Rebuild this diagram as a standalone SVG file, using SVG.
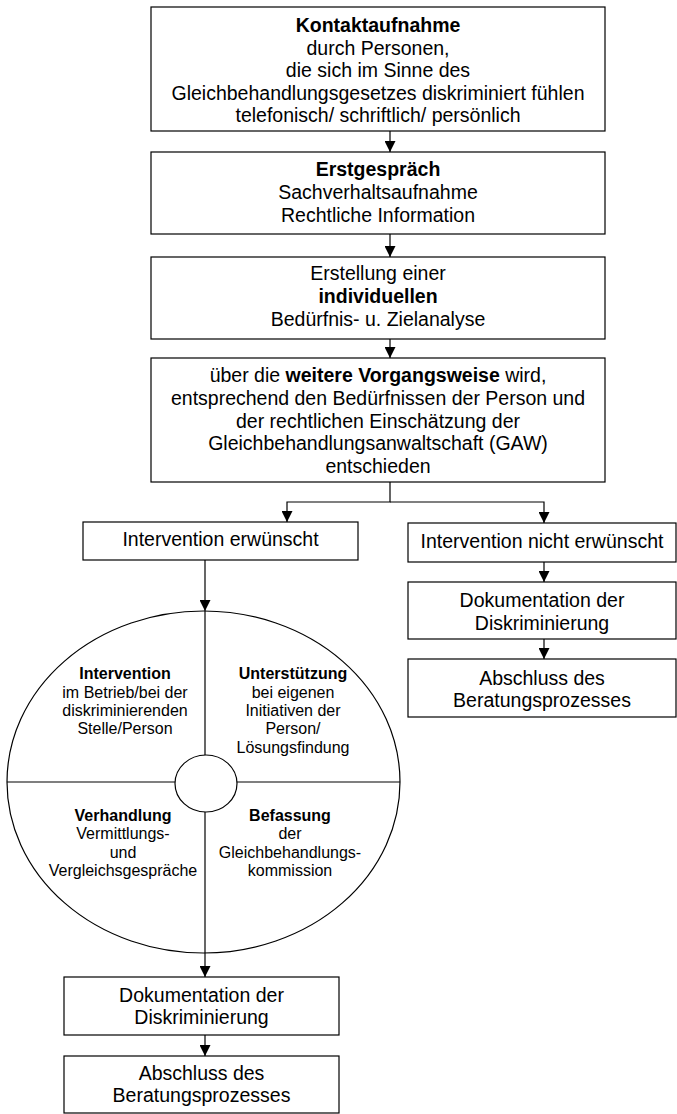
<svg xmlns="http://www.w3.org/2000/svg" width="677" height="1114" viewBox="0 0 677 1114">
<defs>
<marker id="arr" markerUnits="userSpaceOnUse" markerWidth="11" markerHeight="11" refX="11" refY="5.5" orient="auto">
<path d="M0,0 L11,5.5 L0,11 z" fill="#000"/>
</marker>
<style>
.box{fill:#fff;stroke:#000;stroke-width:1.2}
.ln{fill:none;stroke:#000;stroke-width:1.2}
text{font-family:"Liberation Sans",Arial,sans-serif;fill:#000}
.t{font-size:19.5px;text-anchor:middle}
.s{font-size:16px;text-anchor:middle}
.b{font-weight:bold}
</style>
</defs>
<rect width="677" height="1114" fill="#fff"/>
<g id="connectors">
<line class="ln" x1="390" y1="131" x2="390" y2="152" marker-end="url(#arr)"/>
<line class="ln" x1="390" y1="234" x2="390" y2="257" marker-end="url(#arr)"/>
<line class="ln" x1="390" y1="339" x2="390" y2="358" marker-end="url(#arr)"/>
<polyline class="ln" points="390,482 390,502 287,502 287,522" marker-end="url(#arr)"/>
<polyline class="ln" points="390,502 544,502 544,523" marker-end="url(#arr)"/>
<line class="ln" x1="205" y1="560" x2="205" y2="611" marker-end="url(#arr)"/>
<line class="ln" x1="544" y1="562" x2="544" y2="582" marker-end="url(#arr)"/>
<line class="ln" x1="544" y1="639" x2="544" y2="659" marker-end="url(#arr)"/>
<line class="ln" x1="205" y1="812" x2="205" y2="977" marker-end="url(#arr)"/>
<line class="ln" x1="205" y1="1035" x2="205" y2="1056" marker-end="url(#arr)"/>
</g>
<g id="n1">
<rect class="box" x="151" y="7" width="454" height="124"/>
<text class="t" x="378" y="32"><tspan class="b">Kontaktaufnahme</tspan><tspan x="378" y="54.5">durch Personen,</tspan><tspan x="378" y="77">die sich im Sinne des</tspan><tspan x="378" y="99.5">Gleichbehandlungsgesetzes diskriminiert fühlen</tspan><tspan x="378" y="122">telefonisch/ schriftlich/ persönlich</tspan></text>
</g>
<g id="n2">
<rect class="box" x="151" y="152" width="454" height="82"/>
<text class="t" x="378" y="176"><tspan class="b">Erstgespräch</tspan><tspan x="378" y="198.5">Sachverhaltsaufnahme</tspan><tspan x="378" y="221.5">Rechtliche Information</tspan></text>
</g>
<g id="n3">
<rect class="box" x="151" y="257" width="454" height="82"/>
<text class="t" x="378" y="280"><tspan>Erstellung einer</tspan><tspan class="b" x="378" y="303">individuellen</tspan><tspan x="378" y="326">Bedürfnis- u. Zielanalyse</tspan></text>
</g>
<g id="n4">
<rect class="box" x="151" y="358" width="454" height="124"/>
<text class="t" x="378" y="382">über die <tspan class="b">weitere Vorgangsweise</tspan> wird,</text>
<text class="t" x="378" y="405">entsprechend den Bedürfnissen der Person und</text>
<text class="t" x="378" y="427.5">der rechtlichen Einschätzung der</text>
<text class="t" x="378" y="450">Gleichbehandlungsanwaltschaft (GAW)</text>
<text class="t" x="378" y="473">entschieden</text>
</g>
<g id="n5">
<rect class="box" x="83" y="522" width="275" height="38"/>
<text class="t" x="220.5" y="546">Intervention erwünscht</text>
</g>
<g id="n6">
<rect class="box" x="408" y="523" width="268" height="39"/>
<text class="t" x="542" y="548">Intervention nicht erwünscht</text>
</g>
<g id="n7">
<rect class="box" x="408" y="582" width="268" height="57"/>
<text class="t" x="542" y="607">Dokumentation der<tspan x="542" y="629.5">Diskriminierung</tspan></text>
</g>
<g id="n8">
<rect class="box" x="408" y="659" width="268" height="58"/>
<text class="t" x="542" y="685">Abschluss des<tspan x="542" y="707">Beratungsprozesses</tspan></text>
</g>
<g id="n9">
<ellipse class="ln" cx="203.5" cy="782" rx="196.5" ry="171"/>
<line class="ln" x1="205" y1="611" x2="205" y2="755"/>
<line class="ln" x1="7" y1="782" x2="175" y2="782"/>
<line class="ln" x1="237" y1="782" x2="400" y2="782"/>
<ellipse class="ln" cx="206" cy="783.5" rx="31" ry="28.5"/>
<text class="s" x="125" y="679"><tspan class="b">Intervention</tspan><tspan x="125" y="697.5">im Betrieb/bei der</tspan><tspan x="125" y="716">diskriminierenden</tspan><tspan x="125" y="734">Stelle/Person</tspan></text>
<text class="s" x="293" y="679"><tspan class="b">Unterstützung</tspan><tspan x="293" y="697.5">bei eigenen</tspan><tspan x="293" y="716">Initiativen der</tspan><tspan x="293" y="734">Person/</tspan><tspan x="293" y="752.5">Lösungsfindung</tspan></text>
<text class="s" x="123" y="821"><tspan class="b">Verhandlung</tspan><tspan x="123" y="839">Vermittlungs-</tspan><tspan x="123" y="857.5">und</tspan><tspan x="123" y="876">Vergleichsgespräche</tspan></text>
<text class="s" x="290" y="821"><tspan class="b">Befassung</tspan><tspan x="290" y="839">der</tspan><tspan x="290" y="857.5">Gleichbehandlungs-</tspan><tspan x="290" y="876">kommission</tspan></text>
</g>
<g id="n10">
<rect class="box" x="64" y="977" width="275" height="58"/>
<text class="t" x="201.5" y="1002">Dokumentation der<tspan x="201.5" y="1024">Diskriminierung</tspan></text>
</g>
<g id="n11">
<rect class="box" x="64" y="1056" width="275" height="57"/>
<text class="t" x="201.5" y="1080">Abschluss des<tspan x="201.5" y="1102">Beratungsprozesses</tspan></text>
</g>
</svg>
